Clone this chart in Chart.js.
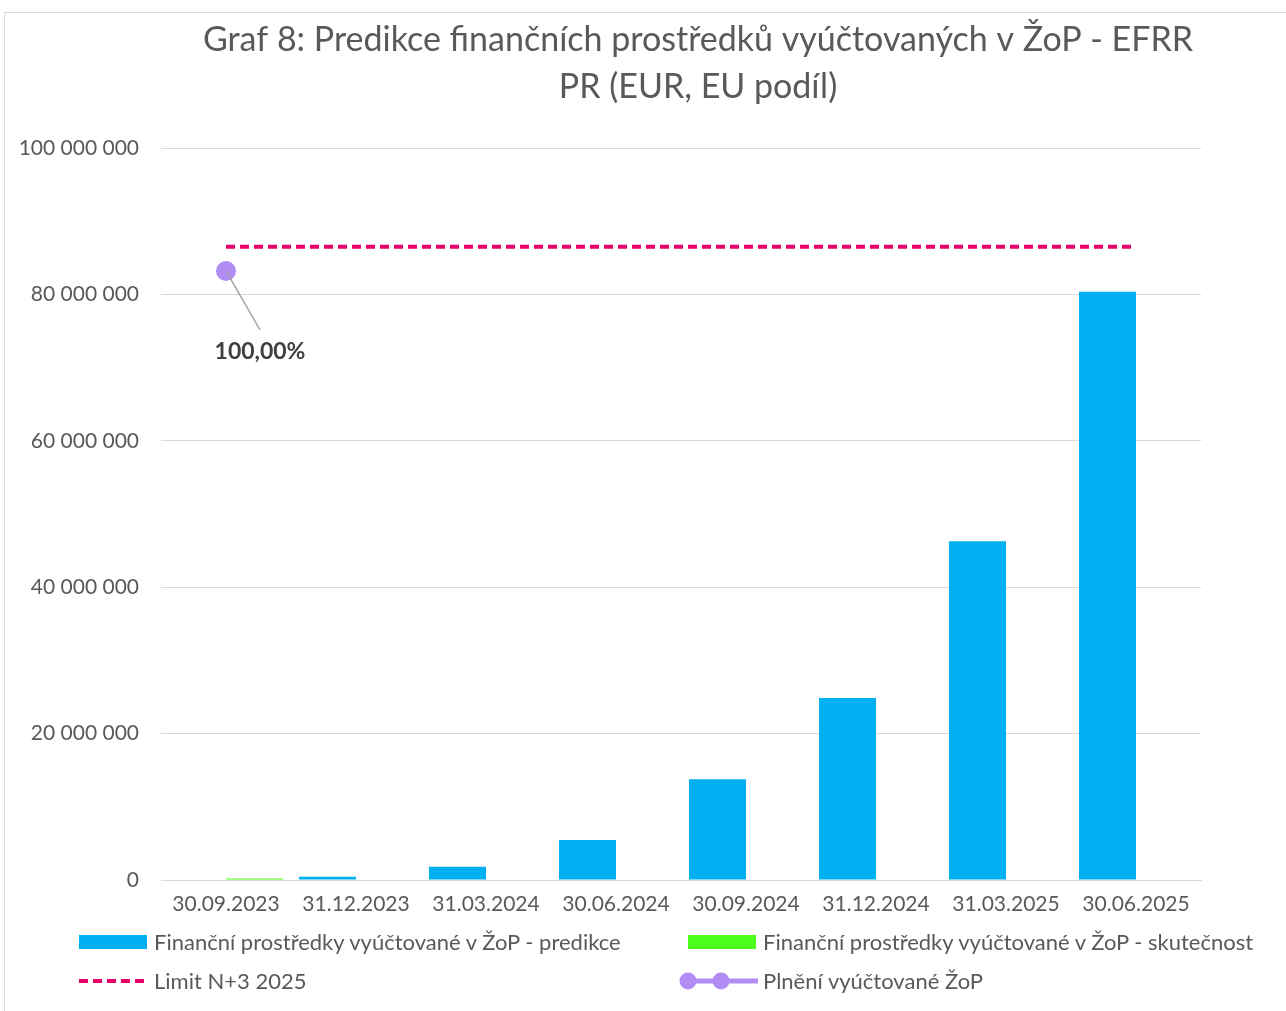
<!DOCTYPE html>
<html>
<head>
<meta charset="utf-8">
<script src="https://cdn.jsdelivr.net/npm/chart.js@4.4.1/dist/chart.umd.min.js"></script>
<style>
  html, body { margin: 0; padding: 0; background: #fff; }
  #wrap { position: relative; width: 1286px; height: 1011px; overflow: hidden; font-family: Lato, "Open Sans", sans-serif; }
  #c { position: absolute; left: 0; top: 0; }
  .lg { position: absolute; font-size: 22px; color: #595959; white-space: nowrap; line-height: 26px; }
  .mk { position: absolute; }
</style>
</head>
<body>
<div id="wrap">
  <canvas id="c" width="1286" height="1011"></canvas>
  <svg class="mk" style="left:79px;top:935px" width="68" height="14"><rect x="0" y="0" width="68" height="14" fill="#00B0F0"/></svg>
  <div class="lg" style="left:154px;top:929px">Finanční prostředky vyúčtované v ŽoP - predikce</div>
  <svg class="mk" style="left:688px;top:935px" width="68" height="14"><rect x="0" y="0" width="68" height="14" fill="#4CFF1C"/></svg>
  <div class="lg" style="left:763px;top:929px">Finanční prostředky vyúčtované v ŽoP - skutečnost</div>
  <svg class="mk" style="left:77px;top:974px" width="72" height="14"><line x1="2" y1="7" x2="70" y2="7" stroke="#E8006A" stroke-width="4" stroke-dasharray="9 5"/></svg>
  <div class="lg" style="left:154px;top:968px">Limit N+3 2025</div>
  <svg class="mk" style="left:678px;top:971px" width="82" height="20"><line x1="10" y1="10" x2="80" y2="10" stroke="#B18CF5" stroke-width="5"/><circle cx="10" cy="10" r="8.5" fill="#B18CF5"/><circle cx="43" cy="10" r="8.5" fill="#B18CF5"/></svg>
  <div class="lg" style="left:763px;top:968px">Plnění vyúčtované ŽoP</div>
</div>
<script>
const titleLines = ["Graf 8: Predikce finančních prostředků vyúčtovaných v ŽoP - EFRR", "PR (EUR, EU podíl)"];
const categories = ["30.09.2023", "31.12.2023", "31.03.2024", "30.06.2024", "30.09.2024", "31.12.2024", "31.03.2025", "30.06.2025"];
const predikce = [0, 450000, 1800000, 5460000, 13750000, 24860000, 46270000, 80370000];
const skutecnost = [200000, null, null, null, null, null, null, null];
const limitN3 = [86500000, 86500000, 86500000, 86500000, 86500000, 86500000, 86500000, 86500000];
const plneni = [83200000, null, null, null, null, null, null, null];
const plneniLabels = ["100,00%", null, null, null, null, null, null, null];
const yTicks = [0, 20000000, 40000000, 60000000, 80000000, 100000000];

const FONT = 'Lato, "Open Sans", sans-serif';
const fmt = v => String(Math.round(v)).replace(/\B(?=(\d{3})+(?!\d))/g, " ");

const decor = {
  id: 'decor',
  beforeDraw(chart) {
    const ctx = chart.ctx;
    ctx.save();
    ctx.strokeStyle = '#d9d9d9';
    ctx.lineWidth = 1;
    ctx.strokeRect(4.5, 12.5, 1400, 1100);
    ctx.fillStyle = '#595959';
    ctx.font = '34px ' + FONT;
    ctx.textAlign = 'center';
    ctx.textBaseline = 'middle';
    ctx.fillText(titleLines[0], 698, 40);
    ctx.fillText(titleLines[1], 698, 87);
    ctx.restore();
  },
  afterDatasetsDraw(chart) {
    const ctx = chart.ctx;
    const meta = chart.getDatasetMeta(1);
    ctx.save();
    plneniLabels.forEach((t, i) => {
      if (!t) return;
      const p = meta.data[i];
      ctx.strokeStyle = '#a6a6a6';
      ctx.lineWidth = 1.5;
      ctx.beginPath();
      ctx.moveTo(p.x, p.y);
      ctx.lineTo(p.x + 34, p.y + 59);
      ctx.stroke();
      ctx.fillStyle = '#404040';
      ctx.font = 'bold 23px ' + FONT;
      ctx.textAlign = 'center';
      ctx.textBaseline = 'middle';
      ctx.fillText(t, p.x + 34, p.y + 81);
    });
    ctx.restore();
  }
};

new Chart(document.getElementById('c'), {
  type: 'bar',
  data: {
    labels: categories,
    datasets: [
      { type: 'line', label: 'Limit N+3 2025', data: limitN3, borderColor: '#E8006A', borderWidth: 4, borderDash: [9, 5], pointRadius: 0, fill: false, order: 0 },
      { type: 'line', label: 'Plnění vyúčtované ŽoP', data: plneni, borderColor: '#B18CF5', backgroundColor: '#B18CF5', borderWidth: 4, pointRadius: 10, pointHoverRadius: 10, pointBorderWidth: 0, fill: false, order: 0 },
      { type: 'bar', label: 'Finanční prostředky vyúčtované v ŽoP - predikce', data: predikce, backgroundColor: '#00B0F0', categoryPercentage: 0.877, barPercentage: 1.0, order: 1 },
      { type: 'bar', label: 'Finanční prostředky vyúčtované v ŽoP - skutečnost', data: skutecnost, backgroundColor: '#4CFF1C', categoryPercentage: 0.877, barPercentage: 1.0, order: 1 }
    ]
  },
  options: {
    responsive: false,
    animation: false,
    layout: { padding: { top: 148, left: 0, right: 85, bottom: 91 } },
    plugins: { legend: { display: false }, title: { display: false }, tooltip: { enabled: false } },
    scales: {
      x: {
        grid: { display: false },
        border: { display: true, color: '#d9d9d9', width: 1 },
        ticks: { color: '#595959', font: { family: FONT, size: 21 }, maxRotation: 0, autoSkip: false, padding: 4 },
        afterFit(s) { s.height = 40; }
      },
      y: {
        min: 0, max: 100000000,
        afterBuildTicks(s) { s.ticks = yTicks.map(v => ({ value: v })); },
        grid: { color: '#d9d9d9', lineWidth: 1, drawTicks: false },
        border: { display: false },
        ticks: { color: '#595959', font: { family: FONT, size: 21 }, padding: 22, callback: v => fmt(v) },
        afterFit(s) { s.width = 161; }
      }
    }
  },
  plugins: [decor]
});
</script>
</body>
</html>
